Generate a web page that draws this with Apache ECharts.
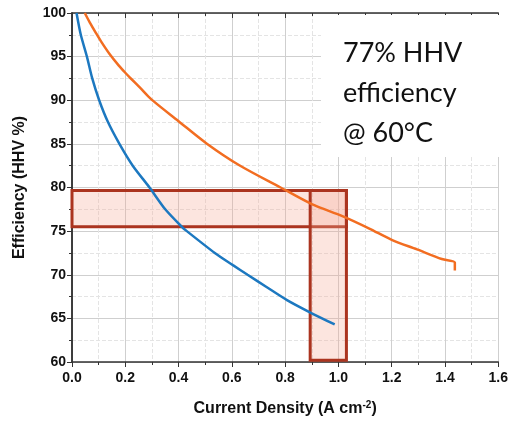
<!DOCTYPE html>
<html><head><meta charset="utf-8">
<script src="https://cdn.jsdelivr.net/npm/echarts@6/dist/echarts.min.js"></script>
<style>html,body{margin:0;padding:0;background:#fff}#c{width:511px;height:422px}</style>
</head><body><div id="c"></div>
<script>
const blueX = [0.017,0.033,0.056,0.076,0.102,0.135,0.178,0.228,0.291,0.35,0.412,0.431,0.536,0.604,0.659,0.73,0.807,0.893,0.986];
const blueY = [100,97.5,95,92.5,90,87.5,85,82.5,80,77.5,75.5,75,72.5,71.1,70,68.6,67.1,65.7,64.3];
const orangeX = [0.048,0.067,0.09,0.112,0.141,0.175,0.2,0.219,0.258,0.298,0.4,0.505,0.628,0.783,0.9,1.017,1.116,1.2,1.295,1.388,1.437,1.437];
const orangeY = [100,98.9,97.7,96.6,95.3,94.0,93.15,92.55,91.35,90.1,87.6,85.05,82.55,80,78.1,76.7,75.3,74.0,72.9,71.8,71.4,70.5];
const hBand = {x0:0, x1:1.03, y0:75.5, y1:79.65};
const vBand = {x0:0.894, x1:1.03, y0:60.2, y1:79.65};
const xTicks = ['0.0','0.2','0.4','0.6','0.8','1.0','1.2','1.4','1.6'];
const annotation = ['77% HHV', 'efficiency', '@ 60\u00B0C'];

const zip = (a,b)=>a.map((v,i)=>[v,b[i]]);
const chart = echarts.init(document.getElementById('c'));
const G = {left:72, right:7, top:13, bottom:59};
const lbl = {fontFamily:'Liberation Sans, Arial', fontWeight:'bold', fontSize:14, color:'#111'};
const axisLine = {show:true, lineStyle:{color:'#333', width:1.5}};
chart.setOption({
  animation:false,
  grid:G,
  xAxis:[{type:'value', min:0, max:1.6, interval:0.2,
    axisLine:axisLine, axisTick:{show:true, inside:false, length:5, lineStyle:{color:'#333'}},
    minorTick:{show:true, splitNumber:2, length:3, lineStyle:{color:'#333'}},
    splitLine:{show:true, lineStyle:{color:'#cfcfcf', width:1}},
    minorSplitLine:{show:true, lineStyle:{color:'#e4e4e4', type:'dashed'}},
    axisLabel:Object.assign({margin:9, formatter:(v)=>xTicks[Math.round(v/0.2)]}, lbl),
    name:'{n|Current Density (A cm}{s|-2}{n|)}', nameLocation:'middle', nameGap:38,
    nameTextStyle:{rich:{n:{fontFamily:'Liberation Sans, Arial', fontWeight:'bold', fontSize:16, color:'#111'},
      s:{fontFamily:'Liberation Sans, Arial', fontWeight:'bold', fontSize:10, color:'#111', verticalAlign:'top', padding:[0,0,8,0]}}}},
   {type:'value', position:'top', min:0, max:1.6, interval:0.2,
    axisLine:axisLine, axisTick:{show:true, inside:true, length:5, lineStyle:{color:'#333'}},
    minorTick:{show:true, splitNumber:2, length:3, lineStyle:{color:'#333'}},
    splitLine:{show:false}, axisLabel:{show:false}}],
  yAxis:[{type:'value', min:60, max:100, interval:5,
    axisLine:axisLine, axisTick:{show:true, inside:false, length:5, lineStyle:{color:'#333'}},
    minorTick:{show:true, splitNumber:2, length:3, lineStyle:{color:'#333'}},
    splitLine:{show:true, lineStyle:{color:'#cfcfcf', width:1}},
    minorSplitLine:{show:true, lineStyle:{color:'#e4e4e4', type:'dashed'}},
    axisLabel:Object.assign({margin:6}, lbl),
    name:'Efficiency (HHV %)', nameLocation:'middle', nameGap:44, nameRotate:90,
    nameTextStyle:{fontFamily:'Liberation Sans, Arial', fontWeight:'bold', fontSize:16, color:'#111'}},
   {type:'value', position:'right', min:60, max:100, interval:5,
    axisLine:axisLine, axisTick:{show:true, inside:true, length:5, lineStyle:{color:'#333'}},
    minorTick:{show:true, splitNumber:2, length:3, lineStyle:{color:'#333'}},
    splitLine:{show:false}, axisLabel:{show:false}}],
  series:[
    {type:'line', data:zip(blueX,blueY), showSymbol:false, smooth:0.25, lineStyle:{color:'#1c78c0', width:2.5}, z:3},
    {type:'line', data:zip(orangeX,orangeY), showSymbol:false, smooth:0.3, lineStyle:{color:'#f26d21', width:2.5}, z:3},
    {type:'line', data:[], z:5, markArea:{silent:true,
      itemStyle:{color:'rgba(244,170,150,0.3)', borderColor:'#ab341f', borderWidth:3},
      data:[
        [{coord:[hBand.x0,hBand.y1]},{coord:[hBand.x1,hBand.y0]}],
        [{coord:[vBand.x0,vBand.y1]},{coord:[vBand.x1,vBand.y0]}]
      ]}}
  ],
  graphic:[
    {type:'rect', shape:{x:321, y:15, width:180, height:142}, style:{fill:'#fff'}, z:10},
    {type:'text', left:343, top:33, z:11, style:{text:annotation.join('\n'), font:'27px Lato, "Open Sans", sans-serif', fill:'#111', lineHeight:40}}
  ]
});
</script></body></html>
